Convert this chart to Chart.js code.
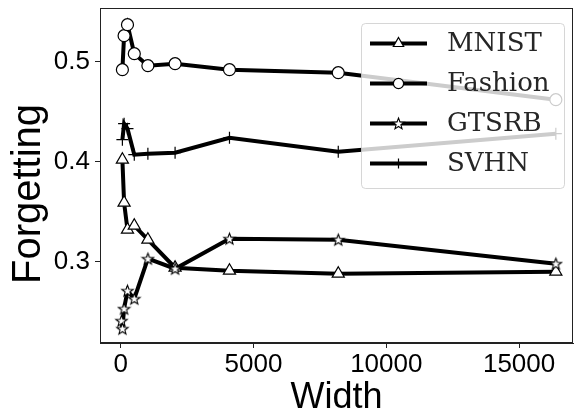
<!DOCTYPE html>
<html>
<head>
<meta charset="utf-8">
<script src="https://cdn.jsdelivr.net/npm/chart.js@4"></script>
<style>
  html, body { margin: 0; padding: 0; background: #fff; }
  #c { display: block; }
</style>
</head>
<body>
<canvas id="c" width="574" height="418"></canvas>
<script>
// ---- data ----
const WIDTHS = [64, 128, 256, 512, 1024, 2048, 4096, 8192, 16384];
const GTSRB_WIDTHS = [32, 64, 128, 256, 512, 1024, 2048, 4096, 8192, 16384];
const MNIST = [0.402, 0.359, 0.332, 0.336, 0.322, 0.294, 0.291, 0.288, 0.290];
const FASHION = [0.492, 0.526, 0.537, 0.508, 0.496, 0.498, 0.492, 0.489, 0.462];
const GTSRB = [0.241, 0.233, 0.253, 0.271, 0.263, 0.303, 0.293, 0.323, 0.322, 0.298];
const SVHN = [0.422, 0.438, 0.433, 0.407, 0.408, 0.409, 0.424, 0.410, 0.428];
const SERIES_NAMES = ['MNIST', 'Fashion', 'GTSRB', 'SVHN'];
const X_TICKS = [0, 5000, 10000, 15000];
const Y_TICKS = [0.3, 0.4, 0.5];
const X_LABEL = 'Width';
const Y_LABEL = 'Forgetting';

const SANS = '"Liberation Sans", Arial, sans-serif';
const SERIF = '"DejaVu Serif", serif';

function pts(xs, ys) { return xs.map((x, i) => ({ x: x, y: ys[i] })); }

// five-pointed star marker (matplotlib '*')
function makeStar(outer) {
  const inner = outer * 0.42;
  const size = Math.ceil(outer * 2 + 3);
  const cv = document.createElement('canvas');
  cv.width = size; cv.height = size;
  const g = cv.getContext('2d');
  const cx = size / 2, cy = size / 2 + 0.5;
  g.beginPath();
  for (let k = 0; k < 10; k++) {
    const r = k % 2 === 0 ? outer : inner;
    const a = -Math.PI / 2 + k * Math.PI / 5;
    const px = cx + r * Math.cos(a), py = cy + r * Math.sin(a);
    if (k === 0) g.moveTo(px, py); else g.lineTo(px, py);
  }
  g.closePath();
  g.fillStyle = '#fff'; g.fill();
  g.strokeStyle = '#000'; g.lineWidth = 1.1; g.stroke();
  return cv;
}
const STAR = makeStar(6);

function lineDs(label, data, style, radius, order) {
  return {
    label: label, data: data, order: order,
    borderColor: '#000', borderWidth: 4, tension: 0, fill: false,
    pointStyle: style, pointRadius: radius, pointHoverRadius: radius,
    pointBackgroundColor: '#fff', pointBorderColor: '#000', pointBorderWidth: 1.2
  };
}

const boxPlugin = {
  id: 'box',
  beforeDatasetsDraw(chart) {
    const a = chart.chartArea, ctx = chart.ctx;
    ctx.save();
    ctx.strokeStyle = '#222'; ctx.lineWidth = 1;
    ctx.strokeRect(a.left + 0.5, a.top + 0.5, a.right - a.left - 1, a.bottom - a.top - 1);
    // y-axis title, placed as in the reference
    ctx.fillStyle = '#000';
    ctx.font = '40px ' + SANS;
    ctx.textAlign = 'center';
    ctx.textBaseline = 'middle';
    ctx.translate(29, 194);
    ctx.rotate(-Math.PI / 2);
    ctx.fillText(Y_LABEL, 0, 0);
    ctx.restore();
  }
};

const legendPlugin = {
  id: 'inLegend',
  afterDatasetsDraw(chart) {
    const ctx = chart.ctx;
    const x0 = 361, y0 = 23, w = 203, h = 165;
    ctx.save();
    ctx.beginPath();
    ctx.roundRect(x0 + 0.5, y0 + 0.5, w, h, 4);
    ctx.fillStyle = 'rgba(255,255,255,0.8)';
    ctx.fill();
    ctx.strokeStyle = 'rgba(204,204,204,0.8)';
    ctx.lineWidth = 1;
    ctx.stroke();
    chart.data.datasets.forEach((ds, i) => {
      const cy = 43.5 + i * 40;
      ctx.strokeStyle = '#000'; ctx.lineWidth = 4;
      ctx.beginPath(); ctx.moveTo(370, cy); ctx.lineTo(427, cy); ctx.stroke();
      ctx.fillStyle = '#fff'; ctx.strokeStyle = '#000'; ctx.lineWidth = ds.pointBorderWidth;
      Chart.helpers.drawPoint(ctx, {
        pointStyle: ds.pointStyle, radius: ds.pointRadius * 0.85,
        borderWidth: ds.pointBorderWidth, rotation: 0
      }, 398.5, cy);
      ctx.fillStyle = '#262626';
      ctx.font = '26px ' + SERIF;
      ctx.textBaseline = 'middle';
      ctx.textAlign = 'left';
      ctx.fillText(ds.label, 447, cy + 1);
    });
    ctx.restore();
  }
};

new Chart(document.getElementById('c'), {
  type: 'line',
  data: {
    datasets: [
      lineDs(SERIES_NAMES[0], pts(WIDTHS, MNIST), 'triangle', 7, 4),
      lineDs(SERIES_NAMES[1], pts(WIDTHS, FASHION), 'circle', 6, 3),
      lineDs(SERIES_NAMES[2], pts(GTSRB_WIDTHS, GTSRB), STAR, 6, 2),
      lineDs(SERIES_NAMES[3], pts(WIDTHS, SVHN), 'cross', 6, 1)
    ]
  },
  options: {
    responsive: false,
    devicePixelRatio: 1,
    animation: false,
    events: [],
    layout: { autoPadding: false, padding: { top: 8, right: 1, left: 0, bottom: 0 } },
    plugins: { legend: { display: false }, tooltip: { enabled: false } },
    scales: {
      x: {
        type: 'linear', min: -779, max: 17030,
        afterFit(s) { s.height = 75; s.paddingLeft = 0; s.paddingRight = 0; },
        afterBuildTicks(s) { s.ticks = X_TICKS.map(v => ({ value: v })); },
        ticks: { font: { size: 26, family: SANS }, color: '#000', padding: 1, maxRotation: 0, autoSkip: false,
                 callback: v => String(v) },
        grid: { display: true, drawOnChartArea: false, drawTicks: true, tickLength: 5, color: '#222', tickWidth: 1 },
        border: { display: true, color: '#222', width: 1 },
        title: { display: true, text: X_LABEL, font: { size: 36, family: SANS }, color: '#000', padding: { top: 0, bottom: -2 } }
      },
      y: {
        type: 'linear', min: 0.2187, max: 0.5537,
        afterFit(s) { s.width = 100; s.paddingTop = 0; s.paddingBottom = 0; },
        afterBuildTicks(s) { s.ticks = Y_TICKS.map(v => ({ value: v })); },
        ticks: { font: { size: 26, family: SANS }, color: '#000', padding: 5, autoSkip: false,
                 callback: v => v.toFixed(1) },
        grid: { display: true, drawOnChartArea: false, drawTicks: true, tickLength: 5, color: '#222', tickWidth: 1 },
        border: { display: true, color: '#222', width: 1 },
        title: { display: false }
      }
    }
  },
  plugins: [boxPlugin, legendPlugin]
});
</script>
</body>
</html>
